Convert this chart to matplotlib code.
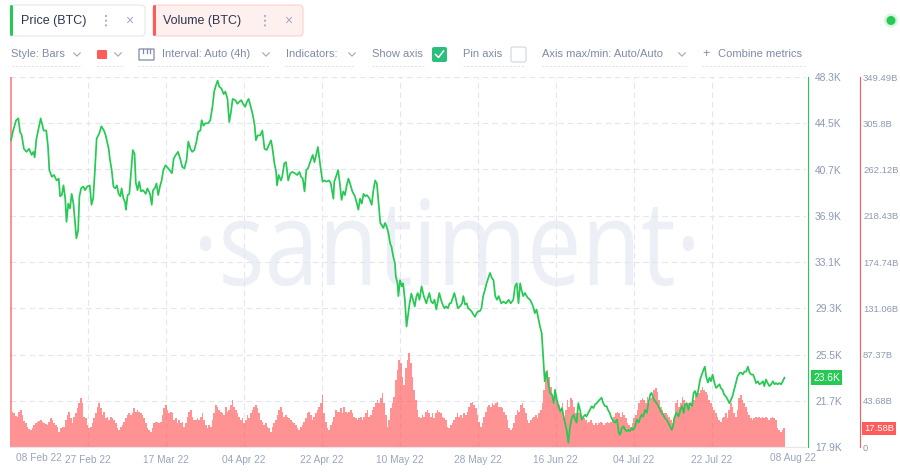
"""Santiment-style BTC price / volume chart (Feb - Aug 2022)."""

import matplotlib

matplotlib.use("Agg")
import matplotlib.dates as mdates
import matplotlib.pyplot as plt
import numpy as np
import pandas as pd
from matplotlib.font_manager import FontProperties
from matplotlib.lines import Line2D
from matplotlib.patches import Circle, FancyBboxPatch, PathPatch
from matplotlib.textpath import TextPath
from matplotlib.transforms import Affine2D, blended_transform_factory

plt.rcParams["font.family"] = "Liberation Sans"

# ── data ──────────────────────────────────────────────────────────────────────
START = pd.Timestamp("2022-02-09 11:00")
VOL_STEP_DAYS = 0.3872

# price samples: days after START, price in thousand USD
price_day = [
    0.0, 0.5, 1.2, 1.7, 2.1, 2.5, 3.0, 3.6, 4.2, 4.8, 5.2, 5.5, 5.9, 6.5, 6.9, 7.6, 8.2, 8.6, 8.9, 9.5,
    10.0, 10.6, 11.1, 11.4, 11.8, 12.2, 12.6, 12.9, 13.3, 13.7, 14.1, 14.5, 14.9, 15.2, 15.6, 15.9, 16.3, 16.8, 17.2, 17.7,
    18.3, 18.7, 19.1, 19.5, 19.9, 20.5, 21.0, 21.6, 22.0, 22.7, 23.0, 23.4, 23.8, 24.2, 24.6, 25.0, 25.4, 25.7, 26.1, 26.5,
    26.7, 27.1, 27.5, 27.9, 28.3, 28.7, 29.0, 29.4, 29.8, 30.2, 30.7, 31.3, 31.7, 32.3, 32.7, 33.0, 33.4, 33.8, 34.2, 34.6,
    35.0, 35.4, 35.9, 36.5,
    37.4, 37.8, 38.3, 38.8, 39.3, 39.8, 40.3, 40.8, 41.2, 41.7, 42.1, 42.6, 43.1, 43.5, 44.0, 44.3, 44.7, 45.2, 45.8, 46.3,
    46.8, 47.2, 47.6, 48.0, 48.4, 48.9, 49.4, 49.8, 50.3, 50.7, 51.1, 51.5, 52.1, 52.6, 53.0, 53.5, 53.9, 54.4, 54.8, 55.2,
    55.6, 56.1, 56.6, 56.9, 57.3, 57.9, 58.4, 58.9, 59.4, 59.9, 60.4, 60.7, 61.2, 61.6, 61.8, 62.2, 62.7, 63.0, 63.5, 63.9,
    64.4, 64.9, 65.4, 65.9, 66.5, 67.0, 67.4, 67.8, 68.2, 68.6, 69.0, 69.4, 69.7, 70.1, 70.5, 70.9, 71.3, 71.6, 72.0, 72.4,
    72.8, 73.3, 73.9, 74.3, 74.9,
    75.1, 75.5, 76.0, 76.4, 76.8, 77.2, 77.6, 78.0, 78.4, 78.9, 79.3, 79.9, 80.3, 80.7, 81.1, 81.5, 81.9, 82.3, 82.7, 83.3,
    83.8, 84.2, 84.6, 85.0, 85.4, 85.8, 86.1, 86.5, 86.9, 87.3, 87.7, 88.1, 88.4, 88.8, 89.2, 89.4, 89.8, 90.0, 90.4, 90.8,
    91.1, 91.5, 91.9, 92.3, 92.6, 93.0, 93.4, 93.8, 94.2, 94.5, 94.9, 95.4, 95.9, 96.5, 96.8, 97.2, 97.6, 98.0, 98.4, 98.8,
    99.2, 99.5, 99.9, 100.3, 100.7, 101.1, 101.5, 101.9, 102.2, 102.6, 103.0, 103.4, 103.8, 104.3, 104.8, 105.1, 105.5, 105.9, 106.2, 106.6,
    107.0, 107.4, 107.8, 108.2, 108.5, 108.9, 109.3, 109.7, 110.1, 110.5, 111.0, 111.3, 111.7, 112.1, 112.5, 112.9, 113.3,
    113.9, 114.4, 115.0, 115.6, 116.1, 116.7, 117.1, 117.5, 117.9, 118.3, 118.6, 119.0, 119.4, 119.8, 120.2, 120.6, 121.0, 121.3, 121.7, 122.1,
    122.5, 122.9, 123.3, 123.6, 124.0, 124.4, 124.8, 125.2, 125.7, 126.1, 126.4, 126.8, 127.2, 127.6, 128.0, 128.4, 128.7, 129.1, 129.5, 129.9,
    130.3, 130.7, 131.1, 131.4, 131.8, 132.2, 132.6, 133.0, 133.4, 133.7, 134.1, 134.5, 134.9, 135.3, 135.7, 136.1, 136.4, 136.8, 137.2, 137.6,
    138.0, 138.4, 138.7, 139.1, 139.5, 139.9, 140.3, 140.8, 141.2, 141.5, 141.9, 142.3, 142.7, 143.1, 143.5, 143.8, 144.2, 144.6, 145.0, 145.4,
    145.8, 146.2, 146.5, 146.9, 147.3, 147.7, 148.1, 148.5, 148.8, 149.2, 149.6, 150.0, 150.4, 150.8, 151.2, 151.5,
    151.9, 152.3, 152.7, 153.1, 153.5, 153.8, 154.2, 154.6, 155.1, 155.5, 155.9, 156.3, 156.6, 157.0, 157.4, 157.8, 158.2, 158.6, 158.9, 159.3,
    159.7, 160.1, 160.5, 160.9, 161.2, 161.5, 161.9, 162.3, 162.6, 163.0, 163.4, 163.8, 164.2, 164.6, 164.9, 165.3, 165.7, 166.1, 166.5, 166.9,
    167.3, 167.6, 168.0, 168.4, 168.8, 169.3, 169.7, 170.0, 170.4, 170.8, 171.2, 171.6, 172.0, 172.4, 172.7, 173.1, 173.5, 173.9, 174.3, 174.7,
    175.0, 175.4, 175.8, 176.2, 176.6, 177.0, 177.4, 177.7, 178.1, 178.5, 178.9, 179.3, 179.7,
]
price_k = [
    43.1, 43.9, 44.75, 44.9, 43.8, 43.5, 42.4, 42.15, 42.4, 41.9, 42.15, 41.7, 43.2, 44.2, 44.9, 43.9, 43.9, 42.6, 40.65, 40.1,
    40.25, 39.8, 39.95, 38.5, 38.6, 39.4, 38.3, 36.4, 37.9, 37.5, 38.7, 37.9, 36.3, 35.05, 35.7, 38.5, 39.15, 39.3, 39.0, 39.3,
    39.4, 37.8, 38.35, 40.65, 43.25, 43.65, 44.25, 43.9, 43.5, 42.4, 41.5, 40.65, 39.3, 39.15, 39.4, 38.7, 38.5, 39.15, 38.35, 38.0,
    37.4, 38.6, 38.7, 40.5, 42.3, 42.0, 39.6, 39.0, 39.7, 38.9, 39.0, 38.7, 39.15, 38.7, 37.8, 39.0, 39.15, 39.55, 38.6, 39.3,
    39.8, 40.65, 41.05, 40.8,
    40.4, 41.6, 41.9, 42.15, 41.6, 40.9, 40.8, 41.5, 43.0, 42.4, 42.15, 42.3, 43.0, 43.8, 43.9, 44.75, 44.3, 44.5, 44.5, 44.75,
    45.85, 47.1, 47.6, 48.0, 47.5, 47.35, 46.9, 47.1, 46.5, 44.6, 45.4, 46.5, 46.4, 46.1, 46.25, 46.4, 46.1, 45.85, 46.25, 46.5,
    46.0, 45.3, 44.35, 43.1, 43.5, 43.5, 43.9, 42.4, 42.3, 42.7, 43.1, 42.55, 41.2, 40.5, 39.4, 40.25, 39.8, 40.1, 41.2, 41.3,
    39.8, 40.4, 40.5, 40.4, 40.25, 40.5, 40.1, 39.95, 38.9, 40.65, 40.8, 41.2, 41.5, 41.9, 41.3, 41.9, 42.55, 41.75, 40.65, 39.7,
    39.8, 39.7, 39.8, 39.55, 38.3,
    39.7, 40.1, 40.65, 39.55, 38.2, 38.9, 38.6, 39.4, 39.95, 39.4, 38.9, 38.5, 38.0, 37.4, 38.3, 37.9, 38.7, 38.5, 38.6, 38.3,
    37.8, 39.0, 39.8, 39.55, 37.9, 36.3, 36.15, 35.9, 36.3, 36.0, 35.45, 34.6, 34.35, 33.55, 33.0, 31.9, 31.35, 30.3, 31.6, 31.1,
    31.35, 30.0, 27.8, 28.9, 29.7, 30.5, 30.0, 29.45, 30.3, 30.55, 30.0, 31.1, 30.3, 29.7, 30.1, 30.55, 29.85, 29.7, 30.0, 29.2,
    30.0, 30.55, 30.0, 29.6, 29.3, 29.45, 29.3, 29.7, 29.7, 30.1, 30.55, 30.0, 29.3, 29.45, 29.7, 30.3, 29.6, 29.7, 29.3, 29.2,
    29.05, 28.8, 28.6, 28.9, 29.05, 29.05, 29.3, 30.3, 30.8, 31.35, 31.9, 32.2, 31.8, 31.6, 30.3, 30.0, 30.3,
    29.7, 29.85, 29.7, 30.0, 29.7, 30.0, 31.1, 31.35, 29.7, 31.35, 30.8, 30.3, 30.55, 30.3, 30.1, 30.0, 29.7, 29.45, 28.9, 29.2,
    28.5, 27.8, 27.25, 25.6, 23.3, 24.1, 23.2, 22.35, 22.2, 21.5, 22.6, 21.8, 21.25, 20.85, 21.1, 20.4, 19.9, 19.3, 18.25, 19.6,
    20.3, 20.55, 20.15, 19.9, 21.5, 20.95, 20.15, 20.4, 20.55, 20.4, 20.7, 20.95, 21.25, 21.1, 21.4, 21.5, 21.65, 21.8, 21.95, 21.5,
    21.25, 21.25, 20.95, 20.7, 20.3, 20.05, 19.9, 20.15, 19.05, 18.9, 19.45, 19.6, 19.3, 19.2, 19.3, 19.2, 19.45, 19.3, 19.6, 20.15,
    19.9, 20.3, 20.55, 20.4, 20.95, 20.7, 21.5, 22.2, 22.35, 21.95, 21.65, 21.5, 21.25, 20.95, 20.7, 20.55,
    20.3, 20.15, 19.9, 19.6, 19.3, 19.6, 20.4, 20.7, 20.4, 20.95, 21.25, 20.7, 21.4, 21.5, 20.95, 21.5, 21.25, 22.35, 22.5, 22.05,
    22.6, 23.45, 23.85, 24.25, 24.5, 23.7, 23.2, 23.6, 23.3, 23.85, 23.2, 22.75, 22.9, 23.05, 22.75, 22.6, 22.2, 22.05, 21.8, 21.5,
    21.8, 22.05, 22.6, 23.15, 23.7, 24.0, 24.0, 23.85, 24.1, 24.1, 24.5, 24.0, 23.85, 23.85, 23.6, 23.15, 23.3, 23.05, 23.15, 23.3,
    22.9, 23.45, 23.15, 22.9, 23.05, 23.3, 23.05, 23.15, 23.05, 23.15, 23.05, 23.3, 23.6,
]

# volume in billions, one value every VOL_STEP_DAYS from START
volume_b = [
    349.49,
    33.4, 31.8, 29.0, 28.7, 33.4, 35.0, 30.0, 25.0, 22.4, 19.2, 17.0, 16.1, 17.6, 20.8, 22.4, 23.9, 25.0, 25.5, 23.9, 22.4,
    21.5, 20.8, 23.9, 27.1, 25.5, 22.4, 20.8, 19.2, 14.5, 17.6, 18.5, 19.2, 25.5, 30.2, 33.4, 27.1, 22.4, 28.7, 31.8, 36.5,
    41.3, 46.0, 41.3, 28.7, 27.1, 20.8, 17.6, 19.2, 22.4, 27.1, 31.8, 38.1, 41.3, 36.5, 30.2, 33.4, 27.1, 28.7, 25.5, 28.7,
    27.1, 25.5, 22.4, 17.6, 16.1, 19.2, 20.8, 23.9, 27.1, 30.2, 31.8, 30.2, 31.8, 36.5, 33.4, 35.0, 33.4, 31.8, 30.2, 27.1,
    22.4, 17.6, 16.1, 14.5, 17.6, 22.4, 23.9, 23.9, 22.4, 23.9, 30.2, 36.5, 39.7, 35.0, 31.8,
    33.4, 31.8, 25.5, 27.1, 22.4, 25.5, 22.4, 23.9, 19.2, 22.4, 28.7, 33.4, 35.0, 28.7, 25.5, 25.5, 27.1, 25.5, 28.7, 31.8,
    25.5, 20.8, 17.6, 20.8, 19.2, 25.5, 31.8, 39.7, 38.1, 35.0, 33.4, 31.8, 30.2, 38.1, 33.4, 35.0, 39.7, 44.4, 38.1, 35.0,
    31.8, 28.7, 25.5, 27.1, 22.4, 25.5, 30.2, 27.1, 31.8, 35.0, 38.1, 39.7, 36.5, 31.8, 25.5, 23.9, 20.8, 22.4, 19.2, 17.6,
    14.5, 19.2, 22.4, 25.5, 30.2, 35.0, 38.1, 33.4, 28.7, 30.2, 28.7, 27.1, 25.5, 23.9, 22.4, 20.8, 17.6, 16.1, 19.2, 20.8,
    23.9, 27.1, 31.8, 33.4, 30.2, 25.5, 28.7, 31.8, 35.0, 38.1, 41.3, 49.1, 31.8, 23.9, 17.6, 16.1, 20.8, 23.9, 28.7,
    35.0, 33.4, 33.4, 36.5, 31.8, 38.1, 33.4, 31.8, 33.4, 35.0, 31.8, 28.7, 27.1, 25.5, 27.1, 28.7, 25.5, 28.7, 31.8, 35.0,
    28.7, 30.2, 35.0, 38.1, 41.3, 44.4, 41.3, 46.0, 50.7, 41.3, 30.2, 19.2, 25.5, 36.5, 41.3, 47.5, 63.3, 72.7, 82.2, 79.0,
    66.4, 58.6, 74.3, 82.2, 88.5, 79.0, 66.4, 53.8, 44.4, 35.0, 28.7, 27.1, 30.2, 28.7, 33.4, 35.0, 31.8, 28.7, 31.8, 27.1,
    31.8, 35.0, 33.4, 31.8, 28.7, 27.1, 25.5, 19.2, 17.6, 20.8, 22.4, 25.5, 28.7, 31.8, 28.7, 30.2, 27.1, 31.8, 30.2, 33.4,
    38.1, 41.3, 42.8, 39.7, 36.5, 30.2, 23.9, 19.2, 22.4, 28.7, 33.4, 38.1, 39.7, 38.1, 41.3, 39.7, 41.3, 42.8, 38.1,
    38.1, 36.5, 33.4, 30.2, 25.5, 17.6, 16.1, 17.6, 22.4, 30.2, 35.0, 33.4, 39.7, 41.3, 36.5, 31.8, 25.5, 22.4, 25.5, 27.1,
    28.7, 30.2, 27.1, 31.8, 35.0, 41.3, 53.8, 66.4, 72.7, 66.4, 57.0, 47.5, 41.3, 49.1, 44.4, 39.7, 35.0, 41.3, 28.7, 35.0,
    44.4, 38.1, 46.0, 44.4, 38.1, 31.8, 28.7, 31.8, 30.2, 28.7, 27.1, 25.5, 22.4, 23.9, 25.5, 22.4, 20.8, 22.4, 20.8, 22.4,
    23.9, 22.4, 20.8, 22.4, 23.9, 22.4, 23.9, 25.5, 28.7, 31.8, 33.4, 31.8, 28.7, 33.4, 30.2, 27.1, 22.4, 20.8, 19.2, 22.4,
    27.1, 30.2, 35.0, 41.3, 44.4, 46.0, 44.4, 41.3, 47.5, 41.3, 46.0, 49.1, 53.8, 55.4, 52.3, 44.4, 38.1, 35.0, 31.8,
    31.8, 30.2, 28.7, 25.5, 22.4, 27.1, 41.3, 44.4, 38.1, 41.3, 47.5, 44.4, 39.7, 36.5, 41.3, 38.1, 46.0, 44.4, 49.1, 52.3,
    50.7, 53.8, 57.0, 53.8, 52.3, 49.1, 44.4, 41.3, 38.1, 35.0, 31.8, 28.7, 25.5, 23.9, 27.1, 28.7, 31.8, 27.1, 35.0, 41.3,
    38.1, 31.8, 28.7, 35.0, 46.0, 49.1, 44.4, 41.3, 38.1, 33.4, 30.2, 27.1, 25.5, 27.1, 28.7, 27.1, 28.7, 27.1, 28.7, 27.1,
    28.7, 27.1, 25.5, 27.1, 28.7, 27.1, 25.5, 17.6, 16.1, 14.5, 16.1, 17.58,
]

price_ticks = [17.9, 21.7, 25.5, 29.3, 33.1, 36.9, 40.7, 44.5, 48.3]
vol_ticks = [0, 43.68, 87.37, 131.06, 174.74, 218.43, 262.12, 305.8, 349.49]
date_ticks = ["2022-02-27 08:00", "2022-03-17 11:00", "2022-04-04 14:00", "2022-04-22 16:00",
              "2022-05-10 19:00", "2022-05-28 22:00", "2022-06-16 00:00", "2022-07-04 03:00",
              "2022-07-22 06:00"]
edge_labels = ["08 Feb 22", "08 Aug 22"]

assert len(price_day) == len(price_k)

GREEN = "#26c953"
RED = "#ff5b5b"
GRID = "#e3e6ee"
MUTED = "#7f8aa8"
AXIS_TXT = "#8d98b3"
W, H = 900, 473
PT = 72 / 100  # points per pixel at dpi 100

fig = plt.figure(figsize=(W / 100, H / 100), dpi=100)
T = fig.dpi_scale_trans


def box(x0, y0, x1, y1, r=0, **kw):
    p = FancyBboxPatch((x0 / 100, (H - y1) / 100), (x1 - x0) / 100, (y1 - y0) / 100,
                       boxstyle=f"round,pad=0,rounding_size={r / 100}", transform=T, **kw)
    fig.add_artist(p)


def line(xs, ys, **kw):
    fig.add_artist(Line2D([x / 100 for x in xs], [(H - y) / 100 for y in ys], transform=T, **kw))


def label(x, y, s, **kw):
    kw.setdefault("color", MUTED)
    kw.setdefault("fontsize", 8)
    fig.text(x / W, 1 - y / H, s, va="center", **kw)


def chevron(x, y=54.5):
    line([x - 3.2, x, x + 3.2], [y - 1.6, y + 1.6, y - 1.6], color="#9aa5bf", lw=0.8)


# ── chart ─────────────────────────────────────────────────────────────────────
ax_v = fig.add_axes([10 / W, 26 / H, 796 / W, 370 / H])
ax_p = ax_v.twinx()
ax_v.patch.set_visible(False)

vol_t = mdates.date2num((START + pd.to_timedelta(np.arange(len(volume_b)) * VOL_STEP_DAYS, unit="D")).to_pydatetime())
price_t = mdates.date2num((START + pd.to_timedelta(np.array(price_day), unit="D")).to_pydatetime())

ax_v.bar(vol_t, volume_b, width=VOL_STEP_DAYS, color=RED, alpha=0.66, lw=0, zorder=2)
ax_p.plot(price_t, price_k, color=GREEN, lw=1.25, zorder=3)

x_lo = mdates.date2num((START - pd.Timedelta(days=0.23)).to_pydatetime())
x_hi = mdates.date2num((START + pd.Timedelta(days=184.7)).to_pydatetime())
ax_v.set_xlim(x_lo, x_hi)
ax_v.set_ylim(vol_ticks[0], vol_ticks[-1])
ax_p.set_ylim(price_ticks[0], price_ticks[-1])

tick_dt = pd.to_datetime(date_ticks)
ax_v.set_xticks(mdates.date2num(tick_dt.to_pydatetime()))
ax_v.set_xticklabels([t.strftime("%d %b %y") for t in tick_dt])

ax_v.set_axisbelow(True)
ax_v.grid(True, color=GRID, lw=0.8, ls=(0, (5, 3.5)))

ax_v.yaxis.tick_right()
ax_v.set_yticks(vol_ticks)
ax_v.set_yticklabels([f"{v:g}B" if v else "0" for v in vol_ticks])
ax_v.spines["right"].set_position(("outward", 54 * PT))
ax_v.spines["right"].set_color(RED)
ax_v.spines["bottom"].set_color(GRID)
for s in ("left", "top"):
    ax_v.spines[s].set_visible(False)
ax_v.tick_params(axis="y", length=0, pad=3 * PT, labelsize=6.8, labelcolor=AXIS_TXT)
ax_v.tick_params(axis="x", length=0, pad=5.5, labelsize=7.3, labelcolor="#9aa4bd")

ax_p.set_yticks(price_ticks)
ax_p.set_yticklabels([f"{v:g}K" for v in price_ticks])
ax_p.spines["right"].set_position(("outward", 2 * PT))
ax_p.spines["right"].set_color(GREEN)
for s in ("left", "top", "bottom"):
    ax_p.spines[s].set_visible(False)
ax_p.tick_params(axis="y", length=0, pad=7 * PT, labelsize=7.4, labelcolor=AXIS_TXT)

# current-value badges
tr_p = blended_transform_factory(ax_p.transAxes, ax_p.transData)
ax_p.text(1 + 7 / 796, price_k[-1], f"{price_k[-1]:g}K", transform=tr_p, ha="left", va="center",
          color="white", fontsize=7.4, clip_on=False,
          bbox=dict(boxstyle="square,pad=0.22", fc=GREEN, ec="none"))
tr_v = blended_transform_factory(ax_v.transAxes, ax_v.transData)
ax_v.text(1 + 58 / 796, volume_b[-1], f"{volume_b[-1]:.2f}B", transform=tr_v, ha="left", va="center",
          color="white", fontsize=6.8, clip_on=False,
          bbox=dict(boxstyle="square,pad=0.22", fc=RED, ec="none"))

# first / last date labels
label(16, 458, edge_labels[0], fontsize=7.3, color="#9aa4bd")
label(793, 458, edge_labels[1], fontsize=7.3, color="#9aa4bd", ha="center")

# watermark
tp = TextPath((0, 0), "\u00b7santiment\u00b7", size=1, prop=FontProperties(family="Open Sans"))
bb = tp.get_extents()
sx = (694 - 200) / 100 / bb.width
sy = (285 - 198) / 100 / bb.y1
wm_tr = Affine2D().translate(-bb.x0, 0).scale(sx, sy).translate(2.00, (H - 285) / 100) + T
wm = PathPatch(tp, transform=wm_tr, fc="#edeff6", ec="none", zorder=-1)
fig.add_artist(wm)

# ── header widgets ───────────────────────────────────────────────────────────
box(10, 5, 145, 36, r=4, fc="white", ec="#e3e7f0", lw=0.8)
box(10, 5, 13, 36, r=1.5, fc=GREEN, ec="none")
label(21, 21, "Price (BTC)", fontsize=9, color="#2f354d")
box(153, 5, 303, 36, r=4, fc="#fff0f0", ec="#ffcfcf", lw=0.8)
box(153, 5, 156, 36, r=1.5, fc=RED, ec="none")
label(163, 21, "Volume (BTC)", fontsize=9, color="#2f354d")
for cx in (106, 265):
    for cy in (16, 20.7, 25.4):
        fig.add_artist(Circle((cx / 100, (H - cy) / 100), 0.011, transform=T, fc="#a3adc5", ec="none"))
for cx in (129, 288):
    label(cx, 20.5, "\u00d7", fontsize=10, color="#9ea9c2", ha="center")

fig.add_artist(Circle((891 / 100, (H - 20.5) / 100), 0.07, transform=T, fc=GREEN, alpha=0.18, ec="none"))
fig.add_artist(Circle((891 / 100, (H - 20.5) / 100), 0.045, transform=T, fc=GREEN, ec="none"))

label(11, 53.5, "Style: Bars")
chevron(77)
box(97, 50, 107, 59, r=1, fc=RED, ec="none")
chevron(118)
box(139, 49, 154, 60, r=0.5, fc="none", ec=MUTED, lw=0.9)
for tx in (143, 146.5, 150):
    line([tx, tx], [49, 52.5], color=MUTED, lw=0.9)
label(162, 53.5, "Interval: Auto (4h)")
chevron(266)
label(286, 53.5, "Indicators:")
chevron(352)
label(372, 53.5, "Show axis")
box(432, 47, 447, 62, r=2, fc="#2bbf7e", ec="none")
line([435.5, 438.5, 443.5], [54.5, 57.5, 51], color="white", lw=1.1)
label(463, 53.5, "Pin axis")
box(511, 47, 526, 62, r=2, fc="white", ec="#d3d9e5", lw=0.9)
label(542, 53.5, "Axis max/min: Auto/Auto")
chevron(682)
label(706, 53.5, "+", ha="center", fontsize=9)
label(718, 53.5, "Combine metrics")

for x0, x1 in ((12, 82), (97, 122), (138, 270), (285, 355), (372, 424), (463, 525), (542, 687), (702, 805)):
    line([x0, x1], [65.5, 65.5], color="#d9dee8", lw=0.7, ls=(0, (2, 2)))

fig.savefig("out.png", dpi=100)
